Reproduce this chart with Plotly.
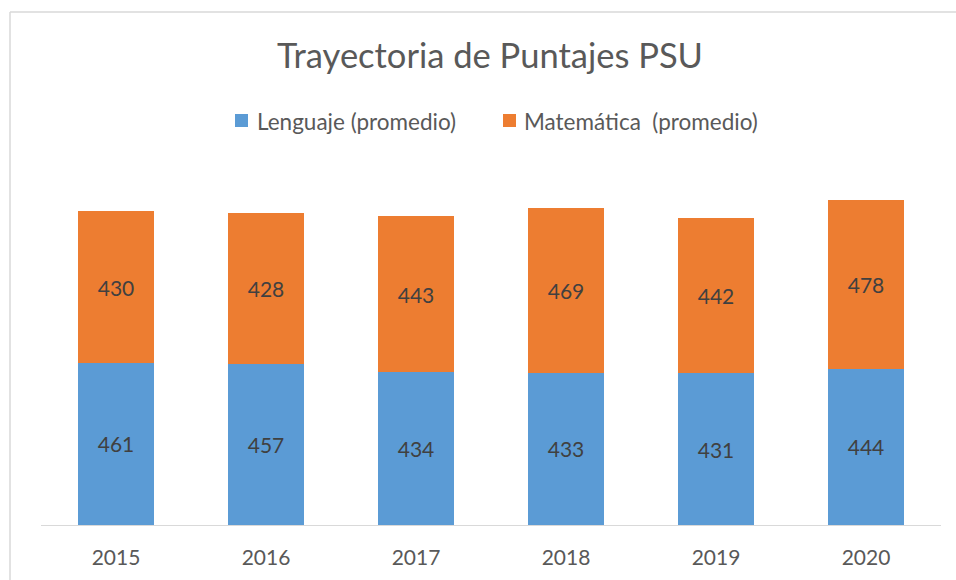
import plotly.graph_objects as go

years = ["2015", "2016", "2017", "2018", "2019", "2020"]
lenguaje = [461, 457, 434, 433, 431, 444]
matematica = [430, 428, 443, 469, 442, 478]
series_names = ["Lenguaje (promedio)", "Matemática  (promedio)"]
series_colors = ["#5B9BD5", "#ED7D31"]
title_text = "Trayectoria de Puntajes PSU"

FONT = "Lato, Carlito, Calibri, sans-serif"
W, H = 956, 580
L, R, T, B = 41, 15, 173, 55
plot_w = W - L - R
plot_h = H - T - B

def px_x(x):
    return (x - L) / plot_w

def px_y(y):
    return (H - B - y) / plot_h

fig = go.Figure()
for vals, name, col in zip([lenguaje, matematica], series_names, series_colors):
    fig.add_trace(go.Bar(
        x=years, y=vals, name=name,
        marker=dict(color=col, line=dict(width=0)),
        text=vals, textposition="inside", insidetextanchor="middle",
        textangle=0, textfont=dict(family=FONT, size=21, color="#404040"),
        showlegend=False,
    ))

# manual legend (Excel style)
legend_sq = [(235, 248), (503, 516)]
legend_tx = [255, 522]
shapes = [
    # chart-area border: left and top edges (others fall outside the view)
    dict(type="line", xref="paper", yref="paper",
         x0=px_x(10), x1=px_x(10), y0=px_y(12), y1=px_y(600),
         line=dict(color="#D9D9D9", width=1.5)),
    dict(type="line", xref="paper", yref="paper",
         x0=px_x(10), x1=px_x(960), y0=px_y(12), y1=px_y(12),
         line=dict(color="#D9D9D9", width=1.5)),
]
annotations = []
for (sx0, sx1), tx, name, col in zip(legend_sq, legend_tx, series_names, series_colors):
    shapes.append(dict(type="rect", xref="paper", yref="paper",
                       x0=px_x(sx0), x1=px_x(sx1), y0=px_y(127), y1=px_y(114),
                       line=dict(width=0), fillcolor=col))
    annotations.append(dict(text=name, xref="paper", yref="paper",
                            x=px_x(tx), y=px_y(121), xanchor="left", yanchor="middle",
                            showarrow=False,
                            font=dict(family=FONT, size=22.5, color="#595959")))

fig.update_layout(
    width=W, height=H,
    barmode="stack", bargap=0.487,
    paper_bgcolor="white", plot_bgcolor="white",
    margin=dict(l=L, r=R, t=T, b=B, autoexpand=False),
    font=dict(family=FONT, color="#595959"),
    showlegend=False,
    title=dict(text=title_text, x=490 / W, xanchor="center",
               y=1 - 56 / H, yanchor="middle", yref="container",
               font=dict(family=FONT, size=34.5, color="#595959")),
    xaxis=dict(showgrid=False, showline=True, linecolor="#D9D9D9", linewidth=1,
               ticks="", tickfont=dict(family=FONT, size=21, color="#595959"),
               ticklabelstandoff=14, fixedrange=True),
    yaxis=dict(range=[0, 1000], visible=False, showgrid=False, fixedrange=True),
    uniformtext=dict(minsize=21, mode="show"),
    shapes=shapes,
    annotations=annotations,
)

fig.write_html("out.html", config={"displayModeBar": False},
               post_script="document.body.style.margin='0';document.body.style.overflow='hidden';")
